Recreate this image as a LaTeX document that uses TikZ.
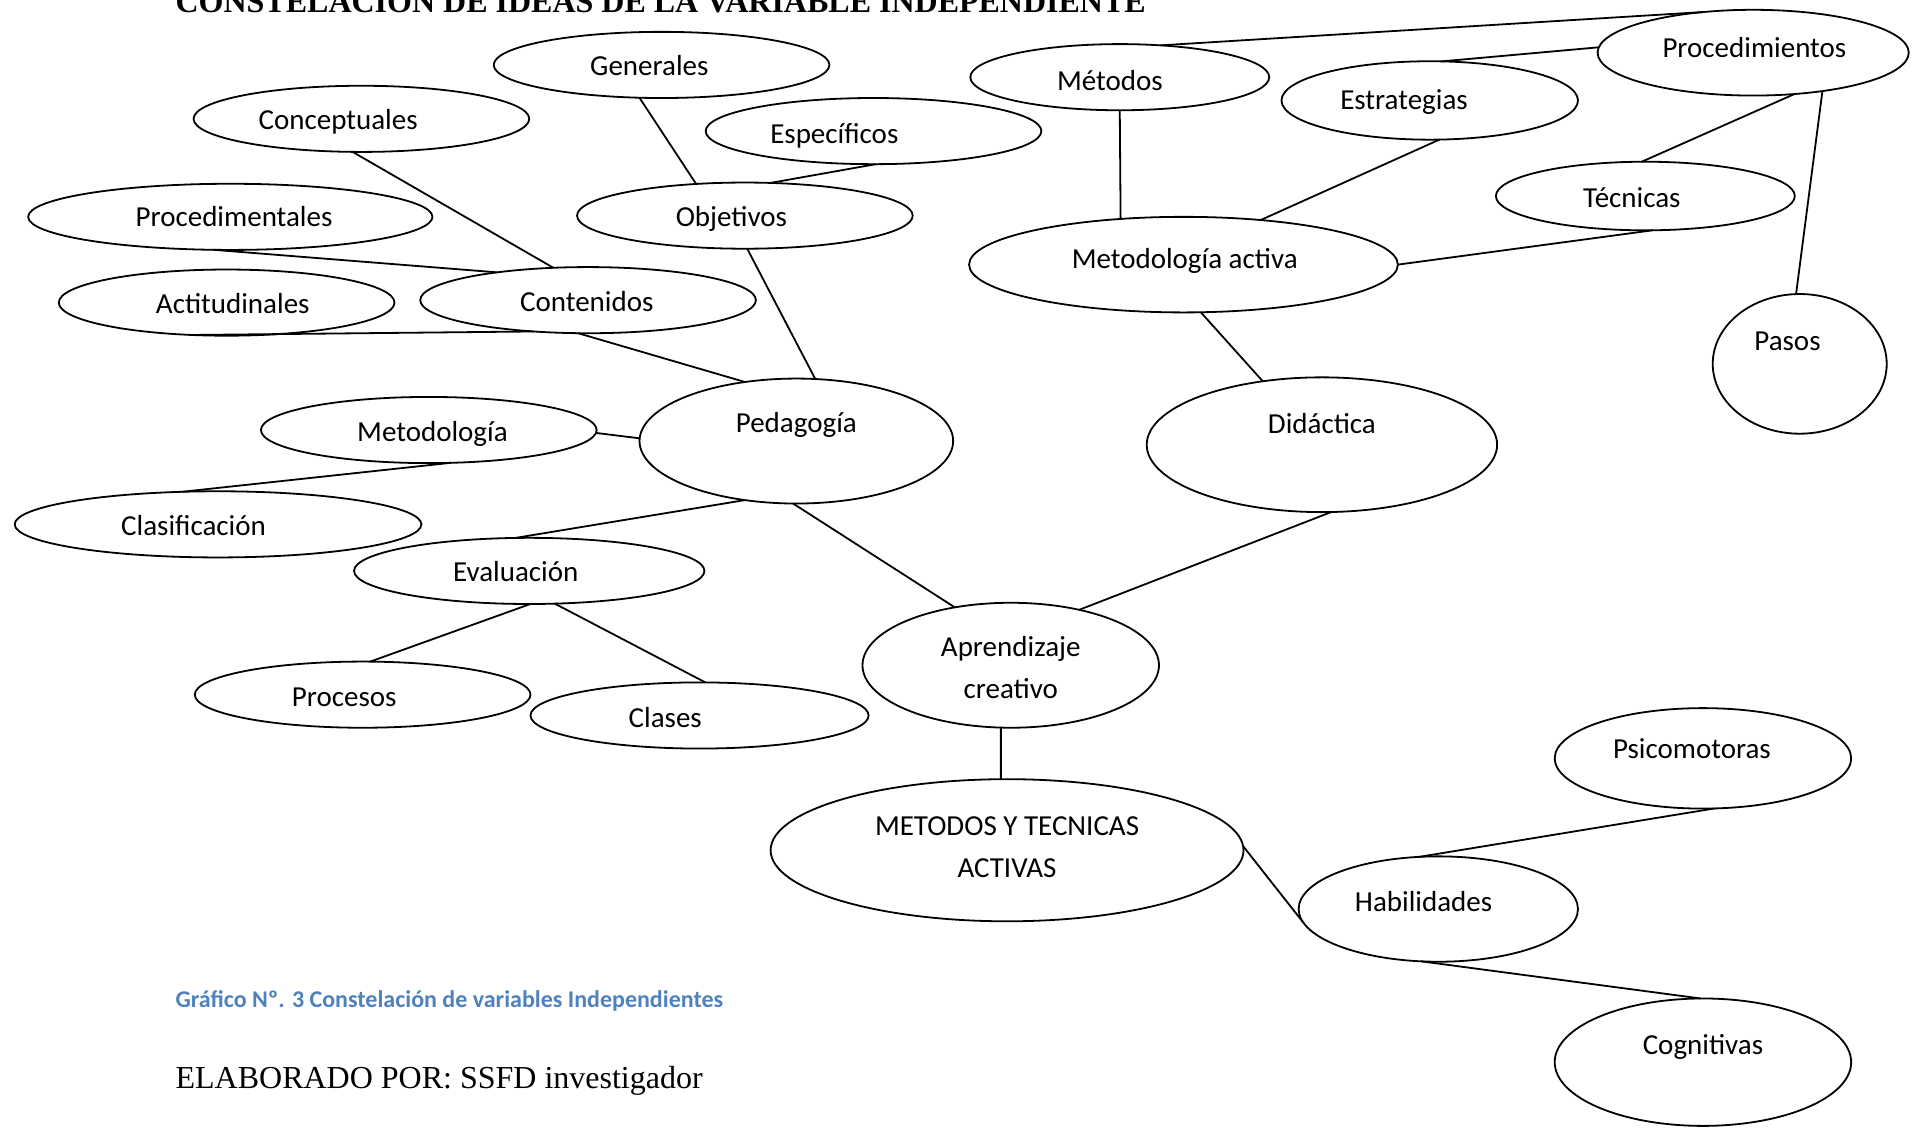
\documentclass[tikz,border=0pt]{standalone}
\usepackage{fontspec}
\setmainfont{Carlito}
\newfontfamily\timesf{Liberation Serif}
\usetikzlibrary{shapes.geometric}
\definecolor{capblue}{HTML}{4F81BD}
\newcommand\mkell[5]{\node[ell,minimum width={2*#4*0.61255pt},minimum height={2*#5*0.61255pt}] (#1) at (#2,#3) {};}
\begin{document}
\begin{tikzpicture}[x=0.61255pt,y=-0.61255pt,
  ell/.style={draw,ellipse,line width=0.9pt,inner sep=0pt,outer sep=0pt},
  lbl/.style={anchor=base,inner sep=0pt,font=\fontsize{14.5}{20.8}\selectfont,align=center},
  con/.style={line width=0.9pt}]
\useasboundingbox (0,0) rectangle (1568,920);
\clip (0,0) rectangle (1568,920);
% ellipses
\mkell{gen}{540}{53}{137}{27}
\mkell{cpt}{295}{97}{137}{27}
\mkell{esp}{713}{107}{137}{27}
\mkell{proc}{188}{177}{165}{27}
\mkell{obj}{608}{176}{137}{27}
\mkell{act}{185}{247}{137}{27}
\mkell{cont}{480}{245}{137}{27}
\mkell{met}{350}{351}{137}{27}
\mkell{ped}{650}{360}{128}{51}
\mkell{cla}{178}{428}{166}{27}
\mkell{eva}{432}{466}{143}{27}
\mkell{pro}{296}{567}{137}{27}
\mkell{cls}{571}{584}{138}{27}
\mkell{apr}{825}{543}{121}{51}
\mkell{mta}{822}{694}{193}{58}
\mkell{hab}{1174}{742}{114}{43}
\mkell{psi}{1390}{619}{121}{41}
\mkell{cog}{1390}{867}{121}{52}
\mkell{did}{1079}{363}{143}{55}
\mkell{mact}{966}{216}{175}{39}
\mkell{mtd}{914}{63}{122}{27}
\mkell{est}{1167}{82}{121}{32}
\mkell{prc}{1431}{43}{127}{35}
\mkell{tec}{1343}{160}{122}{28}
\mkell{pas}{1469}{297}{71}{57}
% labels
\node[lbl] (t-gen) at (530,62) {Generales};
\node[lbl] (t-cpt) at (276,106) {Conceptuales};
\node[lbl] (t-esp) at (681,117) {Específicos};
\node[lbl] (t-proc) at (191,185) {Procedimentales};
\node[lbl] (t-obj) at (597,185) {Objetivos};
\node[lbl] (t-act) at (190,256) {Actitudinales};
\node[lbl] (t-cont) at (479,254) {Contenidos};
\node[lbl] (t-met) at (353,360) {Metodología};
\node[lbl] (t-ped) at (650,353) {Pedagogía};
\node[lbl] (t-cla) at (158,437) {Clasificación};
\node[lbl] (t-eva) at (421,475) {Evaluación};
\node[lbl] (t-pro) at (281,577) {Procesos};
\node[lbl] (t-cls) at (543,594) {Clases};
\node[lbl] (t-apr) at (825,570) {Aprendizaje\\creativo};
\node[lbl] (t-mta) at (822,716) {METODOS Y TECNICAS\\ACTIVAS};
\node[lbl] (t-hab) at (1162,744) {Habilidades};
\node[lbl] (t-psi) at (1381,619) {Psicomotoras};
\node[lbl] (t-cog) at (1390,861) {Cognitivas};
\node[lbl] (t-did) at (1079,354) {Didáctica};
\node[lbl] (t-mact) at (967,219) {Metodología activa};
\node[lbl] (t-mtd) at (906,74) {Métodos};
\node[lbl] (t-est) at (1146,89) {Estrategias};
\node[lbl] (t-prc) at (1432,47) {Procedimientos};
\node[lbl] (t-tec) at (1332,169) {Técnicas};
\node[lbl] (t-pas) at (1459,286) {Pasos};
% connectors
\draw[con] (gen.236) -- (obj.147);
\draw[con] (esp.274) -- (obj.52);
\draw[con] (cpt.255) -- (cont.137);
\draw[con] (proc.243) -- (cont.163);
\draw[con] (act.223) -- (cont.210);
\draw[con] (cont.253) -- (ped.131);
\draw[con] (obj.274) -- (ped.73);
\draw[con] (met.359) -- (ped.179);
\draw[con] (met.304) -- (cla.138);
\draw[con] (ped.229) -- (eva.113);
\draw[con] (ped.267) -- (apr.134);
\draw[con] (eva.272) -- (pro.77);
\draw[con] (eva.308) -- (cls.80);
\draw[con] (did.278) -- (apr.39);
\draw[con] (apr.261) -- (mta.95);
\draw[con] (mta.1) -- (hab.186);
\draw[con] (hab.110) -- (psi.283);
\draw[con] (hab.252) -- (cog.92);
\draw[con] (mact.290) -- (did.133);
\draw[con] (mtd.270) -- (mact.144);
\draw[con] (est.284) -- (mact.30);
\draw[con] (tec.282) -- (mact.0);
\draw[con] (prc.315) -- (tec.96);
\draw[con] (prc.331) -- (pas.93);
\draw[con] (prc.178) -- (est.73);
\draw[con] (mtd.38) -- (prc.140);
% title and captions
\node[anchor=base west,inner sep=0pt,font=\timesf\bfseries\fontsize{16}{19}\selectfont] (title) at (143,10.6) {CONSTELACIÓN DE IDEAS DE LA VARIABLE INDEPENDIENTE};
\node[anchor=base west,inner sep=0pt,text=capblue,font=\bfseries\fontsize{12}{14}\selectfont] (cap) at (143,822) {Gráfico Nº. 3 Constelación de variables Independientes};
\node[anchor=base west,inner sep=0pt,font=\timesf\fontsize{16}{19}\selectfont] (auth) at (143,888.6) {ELABORADO POR: SSFD investigador};
\end{tikzpicture}
\end{document}
